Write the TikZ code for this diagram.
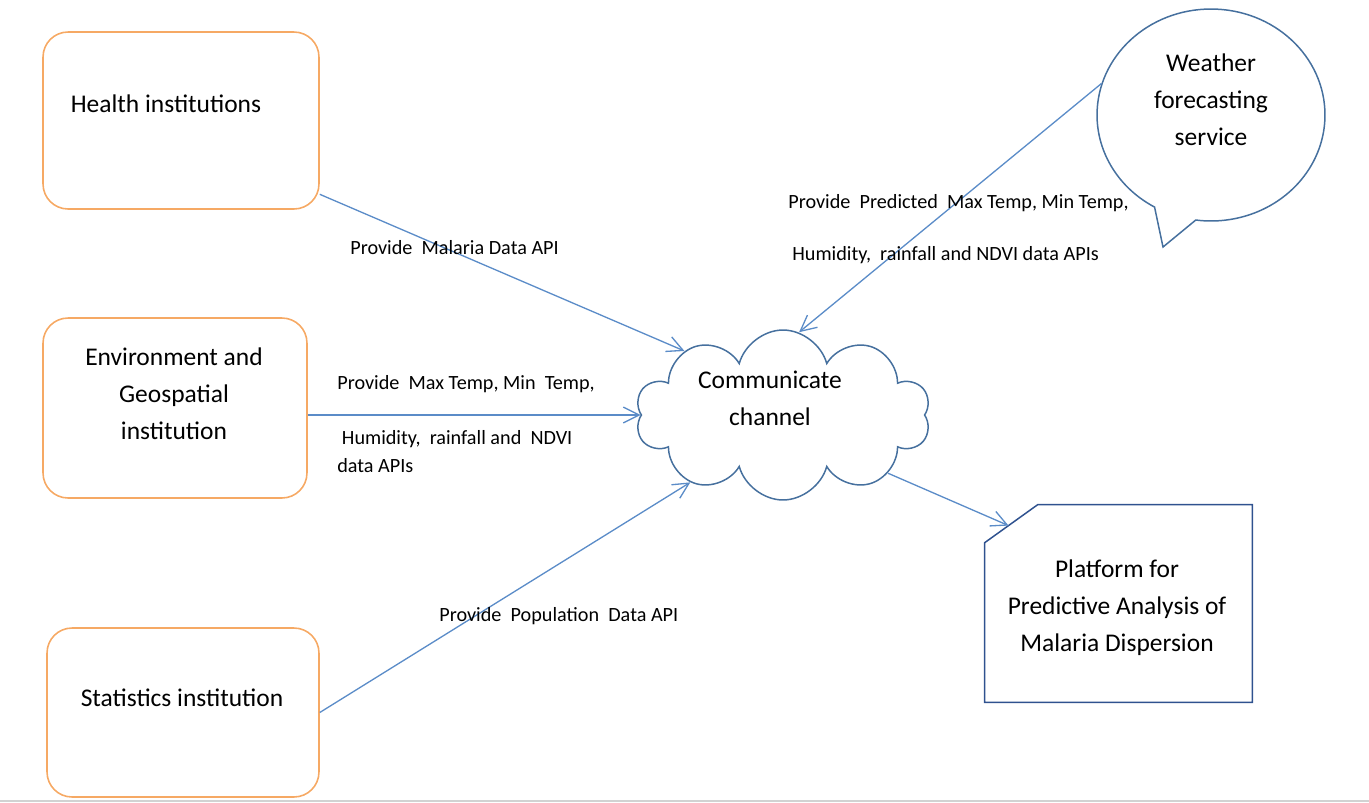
\documentclass[tikz,border=0pt]{standalone}
\usepackage{fontspec}
\setmainfont{Carlito}
\usetikzlibrary{shapes.symbols,shapes.callouts,arrows.meta}
\definecolor{boxorange}{HTML}{F6A964}
\definecolor{arrowblue}{HTML}{5B8CC8}
\definecolor{edgeblue}{HTML}{46709E}
\definecolor{platblue}{HTML}{2F528F}

\begin{document}
\begin{tikzpicture}[x=0.02cm,y=-0.02cm]
  \tikzstyle{inst}=[draw=boxorange,line width=0.9pt,rounded corners=0.5cm]
  \tikzstyle{big}=[font=\fontsize{14.5}{21}\selectfont,align=center,inner sep=0]
  \tikzstyle{small}=[font=\fontsize{11.5}{16}\selectfont,align=left,anchor=west,inner sep=0]
  \tikzstyle{feed}=[draw=arrowblue,line width=0.75pt,-{Straight Barb[length=9pt,width=9pt]}]
  \useasboundingbox (0,0) rectangle (1369,802);
  \draw[gray!35,line width=1pt] (0,801) -- (1369,801);

  \node[inst,minimum width=5.52cm,minimum height=3.54cm] (health) at (181,120.5) {};
  \node[inst,minimum width=5.28cm,minimum height=3.6cm] (env) at (175,408) {};
  \node[inst,minimum width=5.44cm,minimum height=3.38cm] (stats) at (183,712.5) {};
  \node[big] (healthtxt) at (166,104) {Health institutions};
  \node[big] (envtxt) at (174,394) {Environment and\\Geospatial\\institution};
  \node[big] (statstxt) at (182,698) {Statistics institution};

  \node[cloud,cloud puffs=10,aspect=1.7,draw=edgeblue,line width=0.85pt,
        minimum width=5.9cm,minimum height=3.4cm,inner sep=0] (channel) at (783,415) {};
  \node[big] (channeltxt) at (770,398) {Communicate\\channel};

  \node[ellipse callout,draw=edgeblue,line width=0.85pt,minimum width=4.56cm,
        minimum height=4.24cm,inner sep=0,callout absolute pointer={(1163,247)},
        callout pointer arc=22] (weather) at (1211,115) {};
  \node[big] (weathertxt) at (1211,100) {Weather\\forecasting\\service};

  \node[minimum width=5.34cm,minimum height=3.94cm,inner sep=0] (plat) at (1118.5,603.5) {};
  \draw[platblue,line width=0.85pt] (plat.north west) ++(0,38) -- ++(53,-38)
    coordinate[pos=0.45] (platin) -- (plat.north east) -- (plat.south east)
    -- (plat.south west) -- cycle;
  \node[big] (plattxt) at (1117,608) {Platform for\\Predictive Analysis of\\Malaria Dispersion};

  \draw[feed] (health.-28) -- (channel.147);
  \draw[feed] (env.east |- channel.west) -- (channel.west);
  \draw[feed] (stats.east) -- (channel.216);
  \draw[feed] (weather.164) -- (channel.79);
  \draw[feed] (channel.-29) -- (platin);

  \node[small] (malarialbl) at (350,248) {Provide\ \ Malaria Data API};
  \node[small] (envlbla) at (337,384) {Provide\ \ Max Temp, Min\ \ Temp,};
  \node[small,font=\fontsize{11.5}{15.9}\selectfont] (envlblb) at (337,452) {\ Humidity,\ \ rainfall and\ \ NDVI\\data APIs};
  \node[small] (weatherlbla) at (788,203) {Provide\ \ Predicted\ \ Max Temp, Min Temp,};
  \node[small] (weatherlblb) at (792,255) {Humidity,\ \ rainfall and NDVI data APIs};
  \node[small] (poplbl) at (439,616) {Provide\ \ Population\ \ Data API};
\end{tikzpicture}
\end{document}
